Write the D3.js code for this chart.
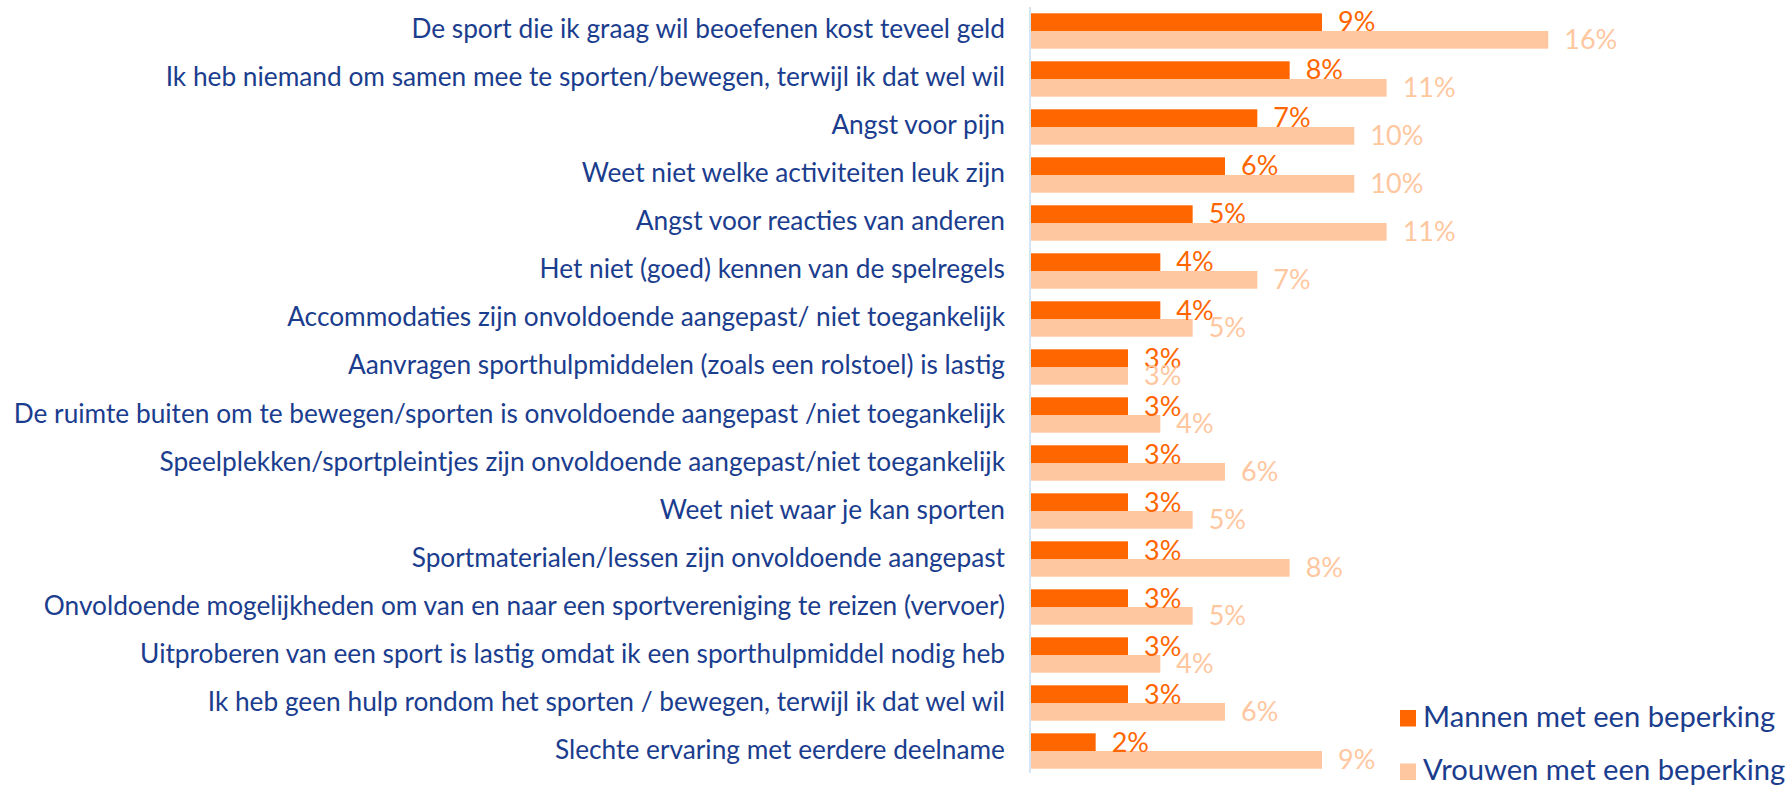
<!DOCTYPE html>
<html>
<head>
<meta charset="utf-8">
<script src="https://cdn.jsdelivr.net/npm/d3@7/dist/d3.min.js"></script>
<style>
  html, body { margin: 0; padding: 0; background: #ffffff; }
  svg { display: block; }
  text { font-family: "Lato", "Open Sans", sans-serif; }
</style>
</head>
<body>
<svg id="chart" width="1790" height="786"></svg>
<script>
// Barriers to sport, by gender (share of respondents with a disability)
const categories = [
  "De sport die ik graag wil beoefenen kost teveel geld",
  "Ik heb niemand om samen mee te sporten/bewegen, terwijl ik dat wel wil",
  "Angst voor pijn",
  "Weet niet welke activiteiten leuk zijn",
  "Angst voor reacties van anderen",
  "Het niet (goed) kennen van de spelregels",
  "Accommodaties zijn onvoldoende aangepast/ niet toegankelijk",
  "Aanvragen sporthulpmiddelen (zoals een rolstoel) is lastig",
  "De ruimte buiten om te bewegen/sporten is onvoldoende aangepast /niet toegankelijk",
  "Speelplekken/sportpleintjes zijn onvoldoende aangepast/niet toegankelijk",
  "Weet niet waar je kan sporten",
  "Sportmaterialen/lessen zijn onvoldoende aangepast",
  "Onvoldoende mogelijkheden om van en naar een sportvereniging te reizen (vervoer)",
  "Uitproberen van een sport is lastig omdat ik een sporthulpmiddel nodig heb",
  "Ik heb geen hulp rondom het sporten / bewegen, terwijl ik dat wel wil",
  "Slechte ervaring met eerdere deelname"
];
const mannen  = [9, 8, 7, 6, 5, 4, 4, 3, 3, 3, 3, 3, 3, 3, 3, 2];
const vrouwen = [16, 11, 10, 10, 11, 7, 5, 3, 4, 6, 5, 8, 5, 4, 6, 9];
const seriesNames = ["Mannen met een beperking", "Vrouwen met een beperking"];

const colors = { mannen: "#ff6600", vrouwen: "#ffc7a0", text: "#1b3d8e", axis: "#c6dcf3" };

const svg = d3.select("#chart");

const rows = categories.map((c, i) => ({ cat: c, values: [mannen[i], vrouwen[i]] }));

const x = d3.scaleLinear().domain([0, 16]).range([1031, 1548.3]);
const y = d3.scaleBand().domain(categories).range([7, 775])
  .paddingInner(0.2625).paddingOuter(0.131);
const y1 = d3.scaleBand().domain([0, 1]).range([0, y.bandwidth()]);
const fill = [colors.mannen, colors.vrouwen];

// category labels, right-aligned against the axis
const labelSize = 26;
const labels = svg.append("g").selectAll("text")
  .data(rows).join("text")
  .attr("x", 1005)
  .attr("y", d => y(d.cat) + y.bandwidth() / 2 + 7.5)
  .attr("text-anchor", "end")
  .attr("fill", colors.text)
  .attr("font-size", labelSize)
  .text(d => d.cat);

// fit the longest label into the space left of the axis
const maxW = d3.max(labels.nodes(), n => n.getComputedTextLength());
const fitted = labelSize * 992 / maxW;
labels.attr("font-size", fitted);

// bars
const groups = svg.append("g").selectAll("g")
  .data(rows).join("g")
  .attr("transform", d => `translate(0,${y(d.cat)})`);

groups.selectAll("rect")
  .data(d => d.values.map((v, k) => ({ v, k })))
  .join("rect")
  .attr("x", x(0))
  .attr("y", d => y1(d.k))
  .attr("width", d => x(d.v) - x(0))
  .attr("height", y1.bandwidth())
  .attr("fill", d => fill[d.k]);

// value labels
groups.selectAll("text")
  .data(d => d.values.map((v, k) => ({ v, k })))
  .join("text")
  .attr("x", d => x(d.v) + 16)
  .attr("y", d => y1(d.k) + y1.bandwidth() + 0.5)
  .attr("fill", d => fill[d.k])
  .attr("font-size", 27)
  .text(d => d.v + "%");

// vertical axis line
svg.append("line")
  .attr("x1", x(0) - 1).attr("x2", x(0) - 1)
  .attr("y1", 7).attr("y2", 773)
  .attr("stroke", colors.axis)
  .attr("stroke-width", 1.5);

// legend
const legend = svg.append("g").attr("transform", "translate(1400,710)");
const items = legend.selectAll("g").data(seriesNames).join("g")
  .attr("transform", (d, i) => `translate(0,${i * 53.5})`);
items.append("rect")
  .attr("width", 16).attr("height", 16.5)
  .attr("fill", (d, i) => fill[i]);
const legendText = items.append("text")
  .attr("x", 23).attr("y", 16.5)
  .attr("fill", colors.text)
  .attr("font-size", fitted)
  .text(d => d);
const firstW = legendText.node().getComputedTextLength();
legendText.attr("font-size", fitted * 352 / firstW);
</script>
</body>
</html>
